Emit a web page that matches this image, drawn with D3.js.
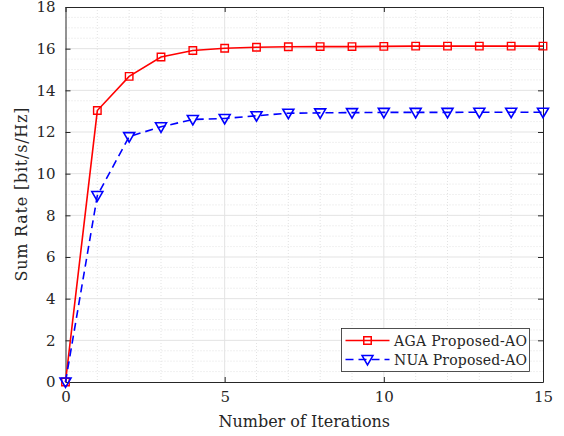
<!DOCTYPE html>
<html>
<head>
<meta charset="utf-8">
<script src="https://d3js.org/d3.v7.min.js"></script>
<style>
  body { margin: 0; background: #fff; }
</style>
</head>
<body>
<div id="chart"></div>
<script>
"use strict";

var iteracoes = [0, 1, 2, 3, 4, 5, 6, 7, 8, 9, 10, 11, 12, 13, 14, 15];
var taxaAGA = [0, 13.03, 14.67, 15.6, 15.91, 16.02, 16.07, 16.09, 16.1, 16.1, 16.11, 16.12, 16.12, 16.12, 16.12, 16.12];
var taxaNUA = [0, 8.95, 11.78, 12.25, 12.6, 12.65, 12.78, 12.9, 12.92, 12.93, 12.94, 12.94, 12.94, 12.95, 12.95, 12.95];
var xTicks = [0, 5, 10, 15];
var yTicks = [0, 2, 4, 6, 8, 10, 12, 14, 16, 18];
var legendas = ["AGA Proposed-AO", "NUA Proposed-AO"];

var fonte = "'DejaVu Serif', serif";

var largura = 564, altura = 436;
var margin = {top: 7, right: 21, bottom: 54, left: 65.5};
var larguraVis = largura - margin.left - margin.right,
    alturaVis = altura - margin.top - margin.bottom;

var svg = d3.select("#chart").append("svg")
  .attr("width", largura)
  .attr("height", altura);

var g = svg.append("g")
  .attr("transform", "translate(" + margin.left + "," + margin.top + ")");

var x = d3.scaleLinear().domain([0, 15]).range([0, larguraVis]);
var y = d3.scaleLinear().domain([0, 18]).range([alturaVis, 0]);

// grade menor
g.append("g").selectAll("line")
  .data(d3.range(0.5, 18, 0.5).filter(v => v % 2 !== 0))
  .enter().append("line")
  .attr("x1", 0).attr("x2", larguraVis)
  .attr("y1", d => y(d)).attr("y2", d => y(d))
  .attr("stroke", "#d0d0d0").attr("stroke-width", 0.6)
  .attr("stroke-dasharray", "1,2");

g.append("g").selectAll("line")
  .data(d3.range(1, 15).filter(v => v % 5 !== 0))
  .enter().append("line")
  .attr("y1", 0).attr("y2", alturaVis)
  .attr("x1", d => x(d)).attr("x2", d => x(d))
  .attr("stroke", "#d0d0d0").attr("stroke-width", 0.6)
  .attr("stroke-dasharray", "1,2");

// grade maior
g.append("g").selectAll("line")
  .data(yTicks.slice(1, -1))
  .enter().append("line")
  .attr("x1", 0).attr("x2", larguraVis)
  .attr("y1", d => y(d)).attr("y2", d => y(d))
  .attr("stroke", "#e3e3e3").attr("stroke-width", 1);

g.append("g").selectAll("line")
  .data(xTicks.slice(1, -1))
  .enter().append("line")
  .attr("y1", 0).attr("y2", alturaVis)
  .attr("x1", d => x(d)).attr("x2", d => x(d))
  .attr("stroke", "#e3e3e3").attr("stroke-width", 1);

// eixos
g.append("g")
  .attr("transform", "translate(0," + alturaVis + ")")
  .call(d3.axisBottom(x).tickValues(xTicks).tickSizeInner(-5).tickSizeOuter(0).tickPadding(9));
g.append("g")
  .call(d3.axisLeft(y).tickValues(yTicks).tickSizeInner(-5).tickSizeOuter(0).tickPadding(10));
g.append("g")
  .call(d3.axisTop(x).tickValues(xTicks).tickSizeInner(-5).tickSizeOuter(0).tickFormat(""));
g.append("g")
  .attr("transform", "translate(" + larguraVis + ",0)")
  .call(d3.axisRight(y).tickValues(yTicks).tickSizeInner(-5).tickSizeOuter(0).tickFormat(""));

g.selectAll(".domain").attr("stroke", "#262626").attr("stroke-width", 1);
g.selectAll(".tick line").attr("stroke", "#262626");
g.selectAll(".tick text")
  .attr("font-family", fonte).style("font-family", fonte)
  .style("font-size", "15px").attr("fill", "#262626");

// series
var linha = d3.line().x((d, i) => x(iteracoes[i])).y(d => y(d));

g.append("path").datum(taxaAGA)
  .attr("d", linha)
  .attr("fill", "none").attr("stroke", "#ff0000").attr("stroke-width", 1.6);

g.append("path").datum(taxaNUA)
  .attr("d", linha)
  .attr("fill", "none").attr("stroke", "#0000ff").attr("stroke-width", 1.6)
  .attr("stroke-dasharray", "8,5");

var quadrado = d3.symbol().type(d3.symbolSquare).size(56);
var triangulo = "M-5.5,-4L5.5,-4L0,5.5Z";

g.append("g").selectAll("path")
  .data(taxaAGA).enter().append("path")
  .attr("d", quadrado)
  .attr("transform", (d, i) => "translate(" + x(iteracoes[i]) + "," + y(d) + ")")
  .attr("fill", "none").attr("stroke", "#ff0000").attr("stroke-width", 1.4);

g.append("g").selectAll("path")
  .data(taxaNUA).enter().append("path")
  .attr("d", triangulo)
  .attr("transform", (d, i) => "translate(" + x(iteracoes[i]) + "," + y(d) + ")")
  .attr("fill", "none").attr("stroke", "#0000ff").attr("stroke-width", 1.6);

// rotulos
svg.append("text")
  .attr("x", margin.left + larguraVis / 2).attr("y", 427)
  .attr("text-anchor", "middle")
  .attr("font-family", fonte).style("font-size", "16px").attr("fill", "#262626")
  .text("Number of Iterations");

svg.append("text")
  .attr("transform", "translate(27," + (margin.top + alturaVis / 2) + ") rotate(-90)")
  .attr("text-anchor", "middle")
  .attr("font-family", fonte).style("font-size", "16px").attr("fill", "#262626")
  .attr("textLength", 174)
  .text("Sum Rate [bit/s/Hz]");

// legenda
var leg = svg.append("g").attr("transform", "translate(341.5,328.5)");
leg.append("rect")
  .attr("width", 188).attr("height", 43)
  .attr("fill", "#fff").attr("stroke", "#262626").attr("stroke-width", 0.8);

var itens = leg.selectAll("g.item").data(legendas).enter().append("g")
  .attr("transform", (d, i) => "translate(0," + (12 + i * 19) + ")");

itens.append("line")
  .attr("x1", 4).attr("x2", 48).attr("y1", 0).attr("y2", 0)
  .attr("stroke", (d, i) => i === 0 ? "#ff0000" : "#0000ff")
  .attr("stroke-width", 1.6)
  .attr("stroke-dasharray", (d, i) => i === 0 ? null : "8,5");

itens.append("path")
  .attr("d", (d, i) => i === 0 ? quadrado() : triangulo)
  .attr("transform", "translate(26,0)")
  .attr("fill", "none")
  .attr("stroke", (d, i) => i === 0 ? "#ff0000" : "#0000ff")
  .attr("stroke-width", 1.5);

itens.append("text")
  .attr("x", 52.5).attr("y", 5)
  .attr("font-family", fonte).style("font-size", "14px").attr("fill", "#262626")
  .attr("textLength", 133)
  .text(d => d);
</script>
</body>
</html>
